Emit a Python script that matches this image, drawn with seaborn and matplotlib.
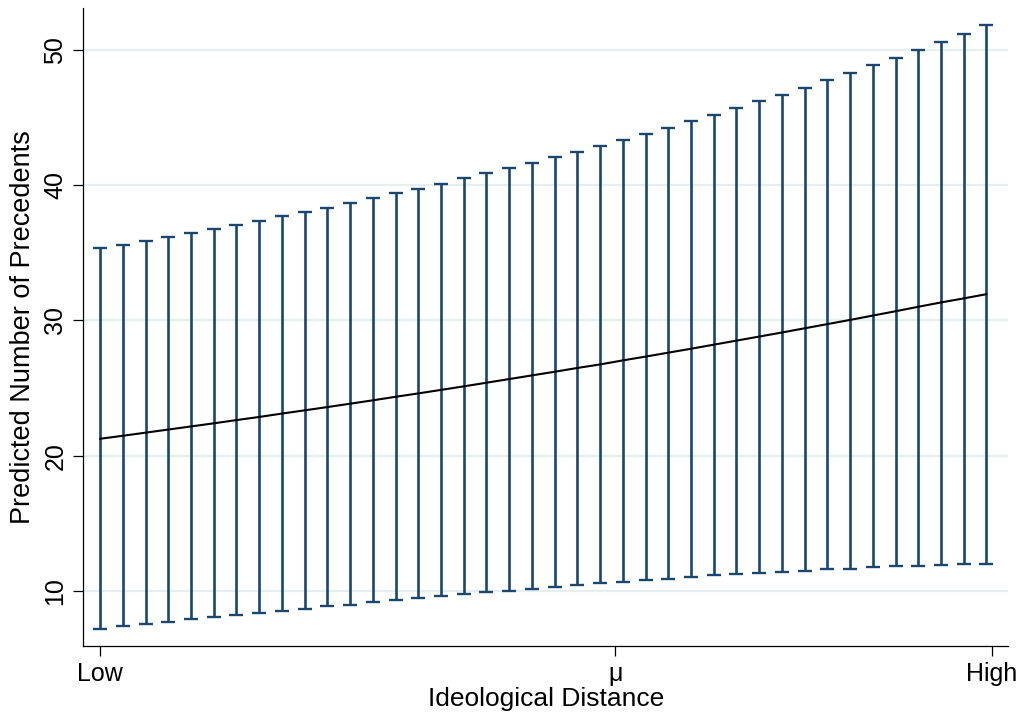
import numpy as np
import pandas as pd
import seaborn as sns
import matplotlib.pyplot as plt

# values, one per step of ideological distance
step = list(range(40))
predicted = [21.25, 21.47, 21.70, 21.93, 22.16, 22.39, 22.63, 22.86, 23.11, 23.35,
             23.59, 23.84, 24.09, 24.35, 24.60, 24.86, 25.12, 25.39, 25.66, 25.93,
             26.20, 26.48, 26.74, 27.04, 27.32, 27.61, 27.90, 28.20, 28.50, 28.80,
             29.10, 29.41, 29.72, 30.03, 30.35, 30.67, 31.00, 31.32, 31.62, 31.93]
upper = [35.31, 35.56, 35.87, 36.15, 36.44, 36.72, 37.01, 37.35, 37.68, 37.99,
         38.31, 38.66, 39.00, 39.37, 39.71, 40.08, 40.48, 40.85, 41.22, 41.63,
         42.05, 42.47, 42.89, 43.33, 43.77, 44.24, 44.71, 45.17, 45.67, 46.18,
         46.68, 47.20, 47.73, 48.30, 48.84, 49.41, 50.00, 50.59, 51.18, 51.79]
lower = [7.23, 7.41, 7.58, 7.75, 7.93, 8.07, 8.24, 8.41, 8.56, 8.71,
         8.86, 9.00, 9.18, 9.33, 9.48, 9.65, 9.79, 9.92, 10.04, 10.16,
         10.33, 10.46, 10.61, 10.70, 10.80, 10.92, 11.05, 11.17, 11.27, 11.34,
         11.44, 11.51, 11.62, 11.66, 11.76, 11.84, 11.88, 11.93, 11.99, 12.01]
xtick_pos = [0, 22.67, 39.23]
xtick_labels = ["Low", "\u03bc", "High"]
ytick_vals = [10, 20, 30, 40, 50]

df = pd.DataFrame({"step": step, "predicted": predicted, "upper": upper, "lower": lower})

sns.set_style("white")
plt.rcParams['font.family'] = ['Liberation Sans', 'DejaVu Sans']
plt.rcParams['text.color'] = 'black'
plt.rcParams['axes.labelcolor'] = 'black'
plt.rcParams['xtick.color'] = 'black'
plt.rcParams['ytick.color'] = 'black'

fig = plt.figure(figsize=(10.24, 7.17), dpi=100)
ax = fig.add_axes([0.0814, 0.0994, 0.9030, 0.8890])

navy = "#1a476f"
mid = (df["upper"] + df["lower"]) / 2
half = (df["upper"] - df["lower"]) / 2
ax.errorbar(df["step"], mid, yerr=half, fmt="none", ecolor=navy,
            elinewidth=1.9, capsize=4.8, capthick=1.7, zorder=2)
sns.lineplot(data=df, x="step", y="predicted", color="black", linewidth=1.5, ax=ax, zorder=3)

ax.set_xlim(-0.735, 39.95)
ax.set_ylim(5.96, 53.05)

ax.set_yticks(ytick_vals)
ax.set_yticklabels([str(v) for v in ytick_vals], rotation=90, va="center", fontsize=18)
ax.set_xticks(xtick_pos)
ax.set_xticklabels(xtick_labels, fontsize=18)
ax.tick_params(axis="both", direction="out", length=7.5, width=0.9, color="black",
               labelcolor="black", left=True, bottom=True, pad=4)
ax.yaxis.grid(True, color="#e6eef0", linewidth=1.6, zorder=0)
ax.xaxis.grid(False)
ax.set_axisbelow(True)

for s in ["top", "right"]:
    ax.spines[s].set_visible(False)
for s in ["left", "bottom"]:
    ax.spines[s].set_color("black")
    ax.spines[s].set_linewidth(0.9)

ax.set_xlabel("Ideological Distance", fontsize=19, labelpad=1, color="black")
ax.set_ylabel("Predicted Number of Precedents", fontsize=19.5, labelpad=5, color="black")

fig.savefig("out.png", dpi=100)
